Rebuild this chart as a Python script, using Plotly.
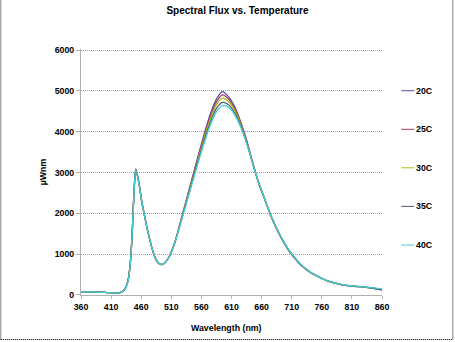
import plotly.graph_objects as go

wavelength = [360, 380, 400, 415, 425, 432, 438, 442, 445, 448, 451, 454, 457, 461, 465,
              470, 476, 482, 488, 493, 498, 505, 515,
              525, 535, 545, 555, 565, 575, 585, 595, 605, 615, 625, 635, 645, 655, 665,
              675, 685, 695, 705, 715, 725, 740, 755, 770, 785, 800, 815, 830, 845, 860]

flux_20C = [75, 75, 65, 45, 55, 130, 350, 800, 1500, 2500, 3090, 2920, 2680, 2280, 1980,
            1620, 1250, 950, 790, 745, 770, 900, 1250,
            1780, 2330, 2880, 3430, 3960, 4440, 4800, 4980, 4860, 4620, 4250, 3800, 3250, 2750, 2350,
            1950, 1620, 1330, 1090, 900, 740, 560, 440, 340, 280, 235, 215, 195, 170, 140]
flux_25C = [75, 75, 65, 45, 55, 130, 350, 800, 1500, 2500, 3080, 2915, 2678, 2280, 1980,
            1620, 1250, 950, 790, 745, 770, 900, 1250,
            1770, 2310, 2850, 3390, 3910, 4380, 4730, 4900, 4800, 4570, 4220, 3780, 3240, 2750, 2350,
            1955, 1625, 1335, 1095, 905, 742, 562, 440, 340, 280, 238, 212, 190, 160, 120]
flux_30C = [75, 75, 65, 45, 55, 128, 345, 795, 1495, 2490, 3070, 2910, 2675, 2282, 1982,
            1622, 1252, 952, 792, 747, 772, 900, 1248,
            1760, 2290, 2820, 3350, 3860, 4320, 4660, 4820, 4740, 4530, 4190, 3760, 3240, 2755, 2355,
            1960, 1630, 1340, 1100, 908, 745, 565, 442, 342, 282, 236, 214, 195, 168, 135]
flux_35C = [75, 75, 65, 45, 55, 125, 340, 790, 1490, 2480, 3060, 2905, 2672, 2284, 1984,
            1624, 1254, 954, 794, 748, 773, 900, 1245,
            1750, 2270, 2790, 3310, 3800, 4240, 4570, 4715, 4660, 4470, 4150, 3740, 3230, 2755, 2360,
            1965, 1635, 1345, 1105, 912, 748, 567, 443, 343, 283, 237, 213, 192, 165, 130]
flux_40C = [75, 75, 65, 45, 55, 120, 330, 780, 1480, 2470, 3050, 2900, 2670, 2286, 1986,
            1626, 1256, 956, 796, 750, 775, 900, 1240,
            1730, 2240, 2750, 3260, 3740, 4170, 4490, 4640, 4600, 4420, 4120, 3720, 3225, 2760, 2365,
            1970, 1640, 1350, 1110, 915, 750, 570, 445, 344, 284, 238, 215, 197, 172, 150]

series_names = ["20C", "25C", "30C", "35C", "40C"]
series_values = [flux_20C, flux_25C, flux_30C, flux_35C, flux_40C]
series_colors = ["#5050A8", "#B03868", "#A0C800", "#585878", "#40D0D8"]

x_ticks = [360, 410, 460, 510, 560, 610, 660, 710, 760, 810, 860]
y_ticks = [0, 1000, 2000, 3000, 4000, 5000, 6000]

FONT = "Liberation Sans, Arial, sans-serif"

fig = go.Figure()
for name, vals, col in zip(series_names, series_values, series_colors):
    fig.add_trace(go.Scatter(x=wavelength, y=vals, name=name, mode="lines",
                             line=dict(color=col, width=1.3, shape="spline", smoothing=0.8),
                             showlegend=False))

# Plot area geometry in px (for placing custom legend / titles)
L, R, T, B = 80.7, 73.3, 49, 47
W, H = 455, 342
pw, ph = W - L - R, H - T - B

legend_y_px = [90.7, 129.3, 167.8, 206.4, 245.0]
shapes = []
annotations = []
for name, col, ypx in zip(series_names, series_colors, legend_y_px):
    yp = (H - B - ypx) / ph
    shapes.append(dict(type="line", xref="paper", yref="paper",
                       x0=(401 - L) / pw, x1=(414 - L) / pw, y0=yp, y1=yp,
                       line=dict(color=col, width=1)))
    annotations.append(dict(xref="paper", yref="paper", x=(414 - L) / pw, y=yp,
                            xanchor="left", yanchor="middle", showarrow=False,
                            text=f"<b>{name}</b>", font=dict(family=FONT, size=8.8, color="#000000")))

# axis titles
annotations.append(dict(xref="paper", yref="paper", x=(226 - L) / pw, y=(H - B - 328) / ph,
                        xanchor="center", yanchor="middle", showarrow=False,
                        text="<b>Wavelength (nm)</b>", font=dict(family=FONT, size=8.8, color="#000000")))
annotations.append(dict(xref="paper", yref="paper", x=(43 - L) / pw, y=(H - B - 172) / ph,
                        xanchor="center", yanchor="middle", showarrow=False, textangle=-90,
                        text="<b>µWnm</b>", font=dict(family=FONT, size=8.8, color="#000000")))

# chart-area dotted border (left, right, bottom)
bx0, bx1 = (0.5 - L) / pw, (452.5 - L) / pw
by0, by1 = (H - B - 339.5) / ph, (H - B - 0) / ph
border = dict(color="#000000", width=1, dash="1px,1px")
for (xa, ya, xb, yb) in [(bx0, by0, bx0, by1), (bx1, by0, bx1, by1), (bx0, by0, bx1, by0)]:
    shapes.append(dict(type="line", xref="paper", yref="paper",
                       x0=xa, y0=ya, x1=xb, y1=yb, line=border))

fig.update_layout(
    width=W, height=H,
    margin=dict(l=L, r=R, t=T, b=B, autoexpand=False),
    paper_bgcolor="white", plot_bgcolor="white",
    title=dict(text="<b>Spectral Flux vs. Temperature</b>", x=(237.5) / W, xanchor="center",
               y=1 - 10 / H, yanchor="middle", font=dict(family=FONT, size=10, color="#000000")),
    font=dict(family=FONT, size=8.8, color="#000000"),
    shapes=shapes, annotations=annotations,
    xaxis=dict(range=[360, 860], tickvals=x_ticks, ticktext=[f"<b>{v}</b>" for v in x_ticks],
               showgrid=False, zeroline=False, showline=True, linecolor="#B0B0B0", linewidth=1,
               ticks="outside", ticklen=3, tickcolor="#B0B0B0"),
    yaxis=dict(range=[-0.5, 6025], tickvals=y_ticks, ticktext=[f"<b>{v}</b>" for v in y_ticks],
               showgrid=True, gridcolor="#A0A0A0", griddash="1px,1px", gridwidth=1,
               zeroline=False, showline=True, linecolor="#B0B0B0", linewidth=1,
               ticks="outside", ticklen=4, tickcolor="#B0B0B0"),
)

fig.write_html("out.html")
